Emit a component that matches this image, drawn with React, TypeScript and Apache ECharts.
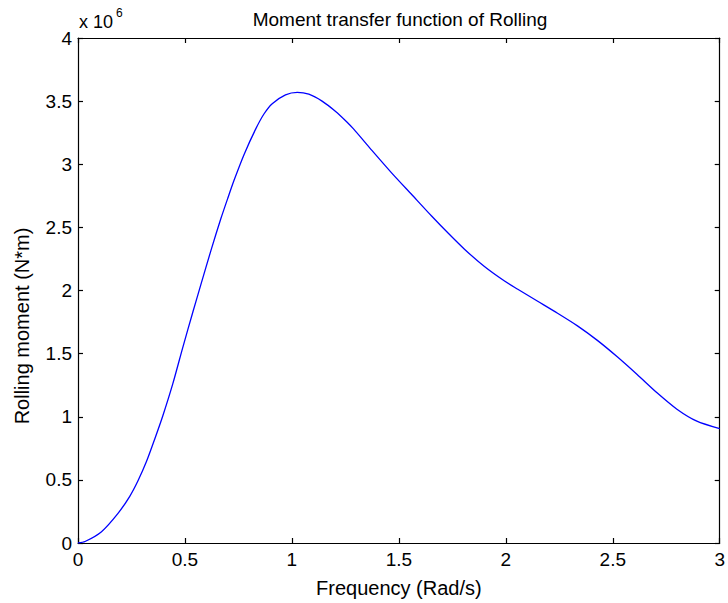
import React, { useEffect, useRef } from "react";
import * as echarts from "echarts";

const frequency = [0, 0.033, 0.11, 0.187, 0.242, 0.281, 0.32, 0.358, 0.397, 0.443, 0.49, 0.537, 0.575, 0.622, 0.668, 0.70, 0.73, 0.777, 0.831, 0.87, 0.908, 0.97, 1.025, 1.079, 1.141, 1.203, 1.257, 1.288, 1.374, 1.467, 1.56, 1.653, 1.73, 1.808, 1.9, 1.994, 2.056, 2.149, 2.242, 2.335, 2.428, 2.521, 2.614, 2.707, 2.8, 2.893, 3.0];
const momentE6 = [0, 0.012, 0.09, 0.235, 0.37, 0.495, 0.645, 0.82, 1.01, 1.26, 1.55, 1.83, 2.05, 2.32, 2.57, 2.73, 2.875, 3.08, 3.28, 3.4, 3.48, 3.55, 3.57, 3.555, 3.5, 3.42, 3.335, 3.28, 3.11, 2.93, 2.76, 2.59, 2.455, 2.325, 2.19, 2.075, 2.01, 1.915, 1.82, 1.72, 1.605, 1.475, 1.335, 1.19, 1.06, 0.965, 0.905];

const title = "Moment transfer function of Rolling";
const xName = "Frequency (Rad/s)";
const yName = "Rolling moment (N*m)";

const FONT = "'Liberation Sans', Arial, sans-serif";

export default function App() {
  const ref = useRef<HTMLDivElement>(null);
  useEffect(() => {
    if (!ref.current) return;
    const chart = echarts.init(ref.current, null, { renderer: "svg" });
    const axisLine = { show: true, onZero: false, lineStyle: { color: "#000", width: 1.2 } };
    const tick = { show: true, inside: true, length: 5, lineStyle: { color: "#000", width: 1.2 } };
    const label = { color: "#000", fontSize: 19, fontFamily: FONT };
    chart.setOption({
      animation: false,
      backgroundColor: "#fff",
      title: {
        text: title,
        left: 395,
        textAlign: "center",
        top: 5,
        textStyle: { color: "#000", fontSize: 19, fontWeight: "normal", fontFamily: FONT },
      },
      grid: { left: 78, right: 5, top: 38, bottom: 56 },
      xAxis: [
        {
          type: "value", min: 0, max: 3, interval: 0.5, position: "bottom",
          axisLine, axisTick: tick, splitLine: { show: false },
          axisLabel: { ...label, margin: 7 },
          name: xName, nameLocation: "middle", nameGap: 35,
          nameTextStyle: { color: "#000", fontSize: 20, fontFamily: FONT },
        },
        {
          type: "value", min: 0, max: 3, interval: 0.5, position: "top",
          axisLine, axisTick: tick, splitLine: { show: false }, axisLabel: { show: false },
        },
      ],
      yAxis: [
        {
          type: "value", min: 0, max: 4, interval: 0.5, position: "left",
          axisLine, axisTick: tick, splitLine: { show: false },
          axisLabel: { ...label, margin: 6 },
        },
        {
          type: "value", min: 0, max: 4, interval: 0.5, position: "right",
          axisLine, axisTick: tick, splitLine: { show: false }, axisLabel: { show: false },
        },
      ],
      graphic: [
        {
          type: "text", x: 22, y: 326, rotation: Math.PI / 2,
          style: { text: yName, fill: "#000", fontSize: 20, fontFamily: FONT, textAlign: "center", textVerticalAlign: "middle" },
        },
        {
          type: "text", x: 79, y: 22,
          style: { text: "x 10", fill: "#000", fontSize: 18, fontFamily: FONT, textAlign: "left", textVerticalAlign: "middle" },
        },
        {
          type: "text", x: 116, y: 13,
          style: { text: "6", fill: "#000", fontSize: 12, fontFamily: FONT, textAlign: "left", textVerticalAlign: "middle" },
        },
      ],
      series: [
        {
          type: "line",
          xAxisIndex: 0, yAxisIndex: 0,
          data: frequency.map((f, i) => [f, momentE6[i]]),
          showSymbol: false,
          smooth: 0.25,
          lineStyle: { color: "#0000ff", width: 1.3 },
          itemStyle: { color: "#0000ff" },
        },
      ],
    });
    return () => chart.dispose();
  }, []);
  return <div ref={ref} style={{ width: 728, height: 603, position: "absolute", left: 0, top: 0 }} />;
}
